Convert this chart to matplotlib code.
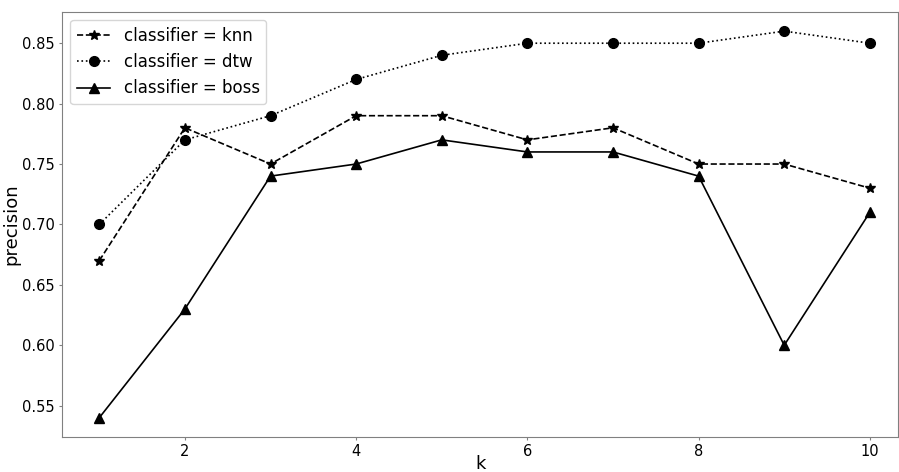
import matplotlib
matplotlib.use("Agg")
import matplotlib.pyplot as plt

k = [1, 2, 3, 4, 5, 6, 7, 8, 9, 10]
knn = [0.67, 0.78, 0.75, 0.79, 0.79, 0.77, 0.78, 0.75, 0.75, 0.73]
dtw = [0.70, 0.77, 0.79, 0.82, 0.84, 0.85, 0.85, 0.85, 0.86, 0.85]
boss = [0.54, 0.63, 0.74, 0.75, 0.77, 0.76, 0.76, 0.74, 0.60, 0.71]

fig = plt.figure(figsize=(8.99, 4.72), dpi=100)
ax = fig.add_axes([0.069, 0.074, 0.93, 0.901])

ax.plot(k, knn, color="black", linestyle="--", marker="*", markersize=7, linewidth=1.2,
        label="classifier = knn")
ax.plot(k, dtw, color="black", linestyle=":", marker="o", markersize=7, linewidth=1.2,
        label="classifier = dtw")
ax.plot(k, boss, color="black", linestyle="-", marker="^", markersize=7, linewidth=1.2,
        label="classifier = boss")

ax.set_xlim(0.565, 10.33)
ax.set_xticks([2, 4, 6, 8, 10])
ax.set_yticks([0.55, 0.60, 0.65, 0.70, 0.75, 0.80, 0.85])
ax.yaxis.set_major_formatter(matplotlib.ticker.FormatStrFormatter("%.2f"))
ax.tick_params(labelsize=10.5, color="#808080", length=2.5, pad=2.5)
for s in ax.spines.values():
    s.set_color("#808080")
ax.set_xlabel("k", fontsize=13, va="center")
ax.xaxis.set_label_coords(0.5, -0.063)
ax.set_ylabel("precision", fontsize=13, va="center")
ax.yaxis.set_label_coords(-0.06, 0.5)
ax.legend(loc="upper left", fontsize=12, handlelength=2.0)

fig.savefig("out.png", dpi=100)
